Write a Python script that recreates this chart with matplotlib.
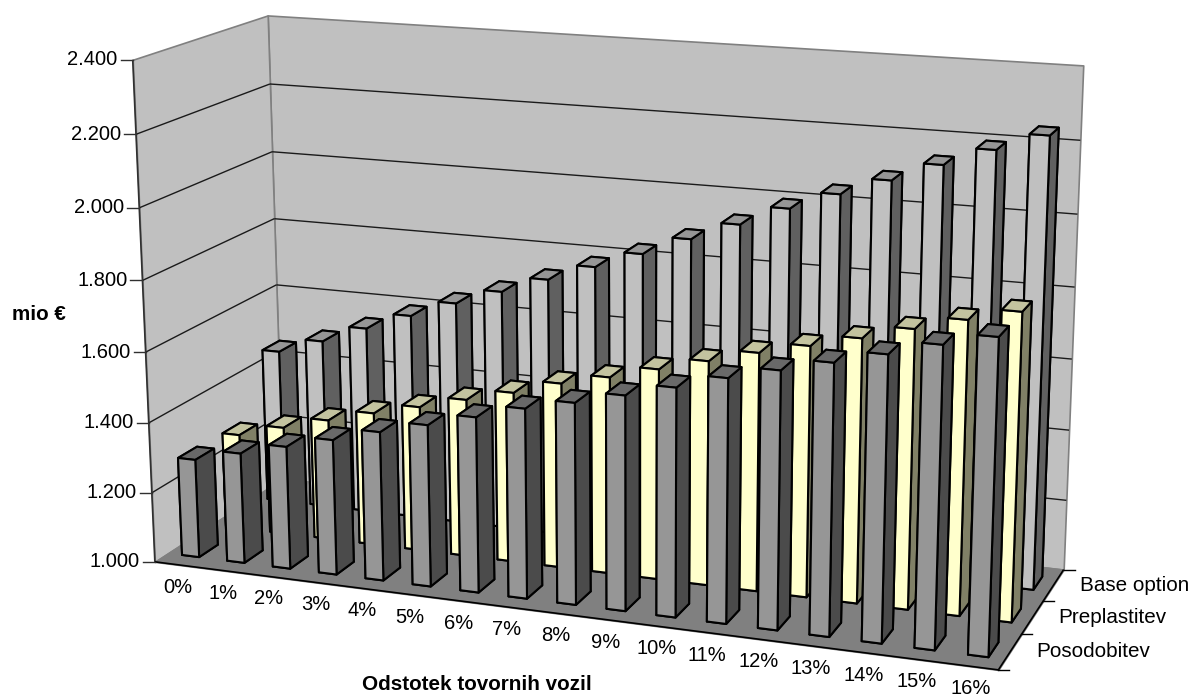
import numpy as np
import matplotlib
matplotlib.use("Agg")
import matplotlib.pyplot as plt
from matplotlib.lines import Line2D
from mpl_toolkits.mplot3d.art3d import Poly3DCollection, Line3DCollection

plt.rcParams['font.family'] = ['Liberation Sans', 'DejaVu Sans']

W, H = 1192, 697

categories = ['0%', '1%', '2%', '3%', '4%', '5%', '6%', '7%', '8%', '9%', '10%',
              '11%', '12%', '13%', '14%', '15%', '16%']
series_names = ['Posodobitev', 'Preplastitev', 'Base option']
posodobitev = [1.282, 1.315, 1.349, 1.383, 1.420, 1.454, 1.490, 1.528, 1.558,
               1.592, 1.627, 1.666, 1.700, 1.734, 1.769, 1.807, 1.840]
preplastitev = [1.277, 1.313, 1.349, 1.384, 1.416, 1.451, 1.485, 1.525, 1.556,
                1.592, 1.628, 1.664, 1.696, 1.730, 1.768, 1.805, 1.839]
base_option = [1.453, 1.497, 1.548, 1.598, 1.647, 1.693, 1.740, 1.788, 1.837,
               1.890, 1.942, 1.997, 2.047, 2.095, 2.147, 2.197, 2.245]
z_ticks = [1.0, 1.2, 1.4, 1.6, 1.8, 2.0, 2.2, 2.4]
z_labels = ['1.000', '1.200', '1.400', '1.600', '1.800', '2.000', '2.200', '2.400']

# front, top, side colour of each series
face_colors = [('#969696', '#696969', '#4b4b4b'),
               ('#ffffcc', '#c3c39f', '#808066'),
               ('#c0c0c0', '#969696', '#606060')]

Z0, Z1 = z_ticks[0], z_ticks[-1]
NX, NY = len(categories), len(series_names)

# box corners -> pixel positions, used to solve the camera
cam_world = [(0, 0, Z0), (0, 0, Z1), (0, 0, 1.8), (0, NY, Z1), (0, NY, 1.8), (0, NY, Z0),
             (NX, NY, Z1), (NX, NY, 1.8), (NX, NY, Z0), (NX, 0, Z0)]
cam_pixel = [(154, 561), (133.5, 61), (142, 280), (267, 15), (274, 218), (284, 480),
             (1084, 66), (1074, 286), (1063, 570), (999, 670)]


def solve_camera(world, pixel):
    rows, rhs = [], []
    for (x, y, z), (u, v) in zip(world, pixel):
        v = H - v
        rows.append([x, y, z, 1, 0, 0, 0, 0, -u * x, -u * y, -u * z])
        rows.append([0, 0, 0, 0, x, y, z, 1, -v * x, -v * y, -v * z])
        rhs += [u, v]
    p = np.linalg.lstsq(np.array(rows, float), np.array(rhs, float), rcond=None)[0]
    # third row only gives the face ordering inside a bar
    return np.array([p[:4], p[4:8], [-0.5, 1.0, -0.5, 0.0], [p[8], p[9], p[10], 1.0]])


camera = solve_camera(cam_world, cam_pixel)


def project(x, y, z):
    v = camera @ np.array([x, y, z, 1.0])
    return v[0] / v[3], v[1] / v[3]


def put_text(px, py, s, **kw):
    fig.text(px / W, py / H, s, **kw)


fig = plt.figure(figsize=(W / 100, H / 100), dpi=100, facecolor='white')
# axes stays square, so it overhangs the figure top and bottom
off = (W - H) / 2
ax = fig.add_axes([0, -off / H, 1, W / H], projection='3d')
ax.set_axis_off()
ax.computed_zorder = False
ax.get_proj = lambda: camera
ax.viewLim.intervalx = (0, W)
ax.viewLim.intervaly = (-off, H + off)

# walls and floor
wall_edge = '#808080'
back = [(0, NY, Z0), (NX, NY, Z0), (NX, NY, Z1), (0, NY, Z1)]
left = [(0, 0, Z0), (0, NY, Z0), (0, NY, Z1), (0, 0, Z1)]
floor = [(0, 0, Z0), (NX, 0, Z0), (NX, NY, Z0), (0, NY, Z0)]
for poly, col in [(back, '#c0c0c0'), (left, '#c0c0c0'), (floor, '#808080')]:
    pc = Poly3DCollection([poly], facecolor=col, edgecolor=wall_edge, linewidth=1.2)
    pc.set_zorder(1)
    ax.add_collection3d(pc)


def add_segments(segs, color, lw):
    lc = Line3DCollection(segs, colors=color, linewidths=lw)
    lc.set_zorder(2)
    ax.add_collection3d(lc)


# gridlines along both walls
grid_segs = []
for z in z_ticks[1:-1]:
    grid_segs.append([(0, 0, z), (0, NY, z)])
    grid_segs.append([(0, NY, z), (NX, NY, z)])
add_segments(grid_segs, '#1a1a1a', 1.0)

# axis lines
add_segments([[(0, 0, Z0), (0, 0, Z1)]], '#303030', 1.2)
add_segments([[(0, 0, Z0), (NX, 0, Z0)], [(NX, 0, Z0), (NX, NY, Z0)]], 'black', 1.2)

# bars, back row first
bar_w, bar_d = 0.38, 0.42
values = [posodobitev, preplastitev, base_option]
order = 3
for row in range(NY - 1, -1, -1):
    front, top, side = face_colors[row]
    # bar3d face order: -z, +z, -y, +y, -x, +x
    faces = [front, top, front, front, side, side]
    for i, val in enumerate(values[row]):
        col = ax.bar3d(i + 0.5 - bar_w / 2, row + 0.5 - bar_d / 2, Z0,
                       bar_w, bar_d, val - Z0, color=faces, shade=False,
                       edgecolor='black', linewidth=1.5)
        col.set_zorder(order)
        order += 1

# value axis ticks and labels
for z, lab in zip(z_ticks, z_labels):
    px, py = project(0, 0, z)
    fig.add_artist(Line2D([px - 12, px], [py, py], color='#303030', lw=1.0,
                          transform=None))
    put_text(px - 15, py, lab, ha='right', va='center', fontsize=14.5, color='black')

# category labels
for i, lab in enumerate(categories):
    px, py = project(i + 0.5, 0, Z0)
    put_text(px, py - 22.5, lab, ha='center', va='center', fontsize=14.5, color='black')

# series ticks and labels
for k in range(NY + 1):
    px, py = project(NX, k, Z0)
    fig.add_artist(Line2D([px, px + 11], [py, py], color='black', lw=1.0, transform=None))
for k, name in enumerate(series_names):
    px, py = project(NX, k + 0.5, Z0)
    put_text(px + 26, py, name, ha='left', va='center', fontsize=14.9, color='black')

put_text(39, H - 315, 'mio €', ha='center', va='center', fontsize=14.9, fontweight='bold')
put_text(477, H - 684, 'Odstotek tovornih vozil', ha='center', va='center',
         fontsize=14.9, fontweight='bold')

fig.savefig('out.png', dpi=100)
